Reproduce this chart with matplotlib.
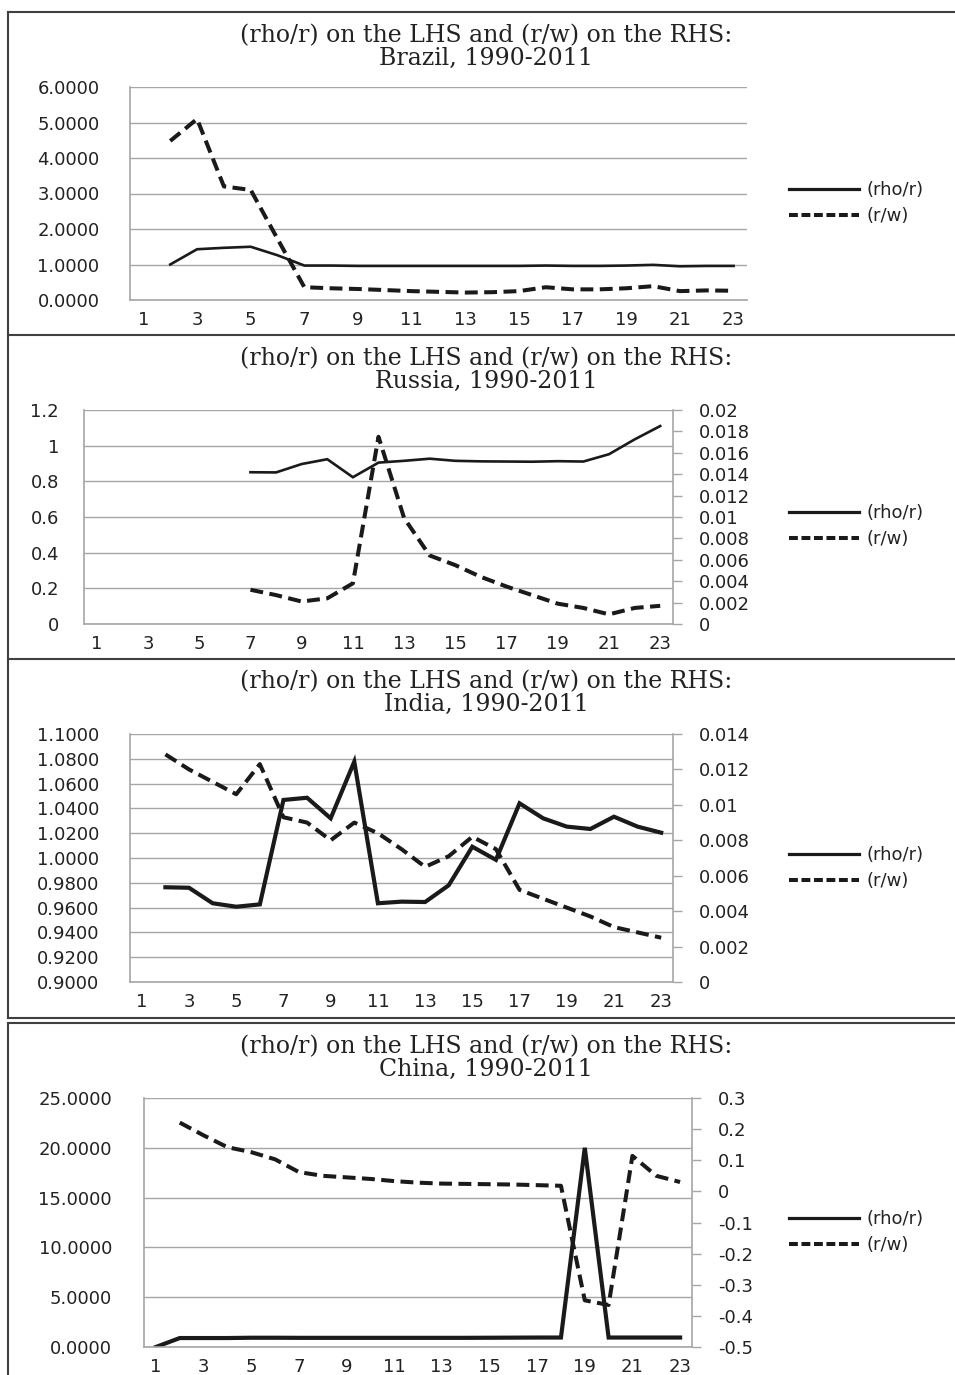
import matplotlib
matplotlib.use("Agg")
import matplotlib.pyplot as plt
from matplotlib.lines import Line2D
import numpy as np

plt.rcParams['font.family'] = ['DejaVu Sans']

nan = np.nan
years = np.arange(1, 24)
x_ticks = list(range(1, 24, 2))

# ---------------- data ----------------
brazil_rho_r = [nan, 1.00, 1.43, 1.47, 1.50, 1.26, 0.97, 0.97, 0.96, 0.96, 0.96, 0.96,
                0.96, 0.96, 0.96, 0.97, 0.96, 0.96, 0.97, 0.99, 0.95, 0.96, 0.96]
brazil_r_w = [nan, 4.48, 5.10, 3.20, 3.10, 1.72, 0.36, 0.33, 0.31, 0.28, 0.25, 0.23,
              0.21, 0.22, 0.25, 0.36, 0.30, 0.30, 0.33, 0.39, 0.25, 0.27, 0.26]

russia_rho_r = [nan, nan, nan, nan, nan, nan, 0.851, 0.850, 0.897, 0.924, 0.823, 0.905,
                0.915, 0.927, 0.915, 0.912, 0.911, 0.910, 0.913, 0.911, 0.952, 1.035, 1.110]
russia_r_w = [nan, nan, nan, nan, nan, nan, 0.0032, 0.0027, 0.0021, 0.0024, 0.0038, 0.0175,
              0.0099, 0.0064, 0.0055, 0.0044, 0.0035, 0.0027, 0.0019, 0.0015, 0.0009, 0.0015, 0.0017]

india_rho_r = [nan, 0.9764, 0.9760, 0.9635, 0.9607, 0.9626, 1.0468, 1.0486, 1.0320, 1.0777,
               0.9635, 0.9648, 0.9645, 0.9780, 1.0091, 0.9985, 1.0441, 1.0320, 1.0253,
               1.0234, 1.0333, 1.0253, 1.0204]
india_r_w = [nan, 0.01285, 0.0120, 0.0113, 0.0106, 0.0123, 0.0093, 0.0090, 0.0080, 0.0090,
             0.0084, 0.0075, 0.0065, 0.0071, 0.0082, 0.0075, 0.0052, 0.0047, 0.0042,
             0.0037, 0.0031, 0.0028, 0.0025]

china_rho_r = [0.0, 0.90, 0.90, 0.90, 0.93, 0.93, 0.92, 0.92, 0.92, 0.92, 0.92, 0.92,
               0.92, 0.92, 0.93, 0.94, 0.95, 0.95, 20.0, 0.95, 0.95, 0.95, 0.95]
china_r_w = [nan, 0.221, 0.180, 0.142, 0.126, 0.103, 0.062, 0.050, 0.045, 0.040, 0.033, 0.028,
             0.025, 0.024, 0.023, 0.022, 0.020, 0.018, -0.350, -0.365, 0.114, 0.050, 0.030]

brazil_left_ticks = [0, 1, 2, 3, 4, 5, 6]
russia_left_ticks = [0, 0.2, 0.4, 0.6, 0.8, 1, 1.2]
russia_right_ticks = [0, 0.002, 0.004, 0.006, 0.008, 0.01, 0.012, 0.014, 0.016, 0.018, 0.02]
india_left_ticks = [0.90, 0.92, 0.94, 0.96, 0.98, 1.00, 1.02, 1.04, 1.06, 1.08, 1.10]
india_right_ticks = [0, 0.002, 0.004, 0.006, 0.008, 0.01, 0.012, 0.014]
china_left_ticks = [0, 5, 10, 15, 20, 25]
china_right_ticks = [-0.5, -0.4, -0.3, -0.2, -0.1, 0, 0.1, 0.2, 0.3]

W, H = 955, 1375
fig = plt.figure(figsize=(W / 100, H / 100), dpi=100)

GRID = '#a6a6a6'
INK = '#1a1a1a'
TXT = '#222222'
TICKFONT = 13


def px_axes(left, right, top, bottom):
    return fig.add_axes([left / W, 1 - bottom / H, (right - left) / W, (bottom - top) / H])


def fmt_g(v):
    s = '{:g}'.format(round(v, 6))
    return '0' if s in ('-0', '0') else s


def panel(box, country, title_y, rho, rw, left_ticks, left_fmt, left_pad,
          right_ticks=None, lw_solid=1.9, legend_y=None):
    left, right, top, bottom = box
    ax = px_axes(left, right, top, bottom)
    ax.set_xlim(0.5, 23.5)
    ax.set_ylim(left_ticks[0], left_ticks[-1])
    ax.set_yticks(left_ticks)
    ax.set_yticklabels([left_fmt(v) for v in left_ticks])
    ax.set_xticks(x_ticks)
    ax.set_xticklabels([str(v) for v in x_ticks])
    ax.grid(axis='y', color=GRID, lw=1)
    ax.set_axisbelow(True)
    for s in ('top', 'right'):
        ax.spines[s].set_visible(False)
    for s in ('left', 'bottom'):
        ax.spines[s].set_color(GRID)
        ax.spines[s].set_linewidth(1.2)
    ax.tick_params(axis='y', length=0, pad=left_pad, labelsize=TICKFONT, labelcolor=TXT)
    ax.tick_params(axis='x', length=0, pad=8, labelsize=TICKFONT, labelcolor=TXT)

    l1, = ax.plot(years, rho, color=INK, lw=lw_solid, solid_joinstyle='miter')
    if right_ticks is None:
        target = ax
    else:
        target = ax.twinx()
        target.set_ylim(right_ticks[0], right_ticks[-1])
        target.set_yticks(right_ticks)
        target.set_yticklabels([fmt_g(v) for v in right_ticks])
        for s in ('top', 'left', 'bottom'):
            target.spines[s].set_visible(False)
        target.spines['right'].set_color(GRID)
        target.spines['right'].set_linewidth(1.2)
        target.tick_params(axis='y', length=6.5, width=1, color=GRID, pad=12,
                           labelsize=TICKFONT, labelcolor=TXT)
    l2, = target.plot(years, rw, color=INK, lw=2.9, ls=(0, (3.2, 1.6)))

    handles = [Line2D([], [], color=INK, lw=2.3),
               Line2D([], [], color=INK, lw=2.9, ls=(0, (2.2, 0.9)))]
    fig.legend(handles, ['(rho/r)', '(r/w)'], loc='center left',
               bbox_to_anchor=(789 / W, 1 - legend_y / H), frameon=False,
               fontsize=13, handlelength=3.9, handletextpad=0.4, labelspacing=0.45,
               borderpad=0, borderaxespad=0, labelcolor=TXT)

    fig.text(486 / W, 1 - title_y / H, '(rho/r) on the LHS and (r/w) on the RHS:',
             ha='center', va='center', fontsize=17, family='DejaVu Serif', color=TXT)
    fig.text(486 / W, 1 - (title_y + 22) / H, country + ', 1990-2011',
             ha='center', va='center', fontsize=17, family='DejaVu Serif', color=TXT)


panel((130, 747, 87, 300), 'Brazil', 36, brazil_rho_r, brazil_r_w,
      brazil_left_ticks, lambda v: '%.4f' % v, 22, None, 1.9, 203)
panel((84, 673, 410, 624), 'Russia', 359, russia_rho_r, russia_r_w,
      russia_left_ticks, fmt_g, 18, russia_right_ticks, 1.9, 526)
panel((130, 673, 734, 982), 'India', 682, india_rho_r, india_r_w,
      india_left_ticks, lambda v: '%.4f' % v, 22, india_right_ticks, 3.0, 868)
panel((144, 692, 1098, 1347), 'China', 1047, china_rho_r, china_r_w,
      china_left_ticks, lambda v: '%.4f' % v, 23, china_right_ticks, 3.0, 1232)

# panel frames
BORDER = '#404040'
for yy in (12, 335, 659, 1018, 1023):
    fig.add_artist(Line2D([8 / W, 1.0], [1 - yy / H, 1 - yy / H], color=BORDER, lw=1.5,
                          transform=fig.transFigure))
fig.add_artist(Line2D([8 / W, 8 / W], [1 - 12 / H, 1 - 1018 / H], color=BORDER, lw=1.5,
                      transform=fig.transFigure))
fig.add_artist(Line2D([8 / W, 8 / W], [1 - 1023 / H, 0.0], color=BORDER, lw=1.5,
                      transform=fig.transFigure))

fig.savefig('out.png', dpi=100)
